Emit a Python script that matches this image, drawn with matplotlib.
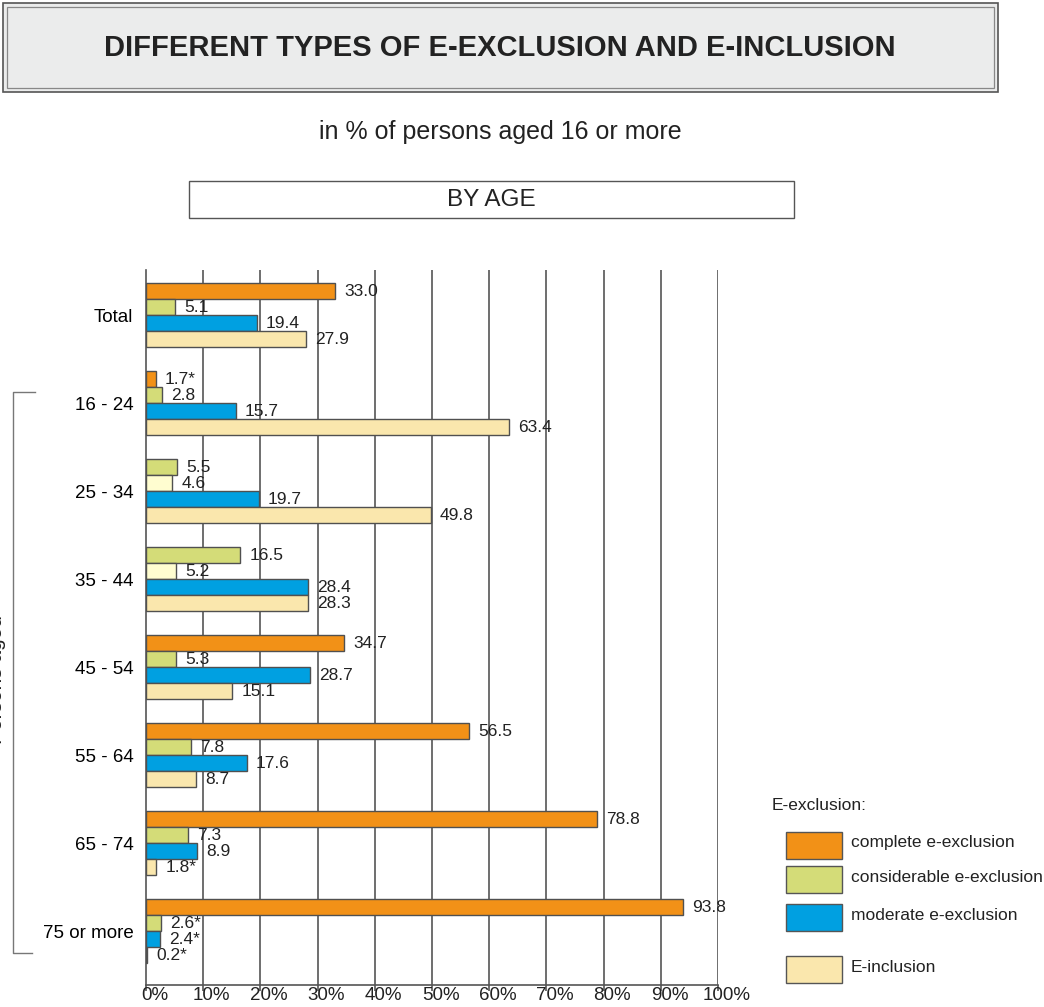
import matplotlib
matplotlib.use("Agg")
import matplotlib.pyplot as plt
from matplotlib.patches import Rectangle

plt.rcParams["font.family"] = ["Liberation Sans", "DejaVu Sans"]

# data
groups = ["Total", "16 - 24", "25 - 34", "35 - 44", "45 - 54", "55 - 64", "65 - 74", "75 or more"]
complete = [33.0, 1.7, None, None, 34.7, 56.5, 78.8, 93.8]
considerable = [5.1, 2.8, 5.5, 16.5, 5.3, 7.8, 7.3, 2.6]
moderate = [19.4, 15.7, 19.7, 28.4, 28.7, 17.6, 8.9, 2.4]
inclusion = [27.9, 63.4, 49.8, 28.3, 15.1, 8.7, 1.8, 0.2]
unmarked = [None, None, 4.6, 5.2, None, None, None, None]
flagged = {("complete", 1), ("considerable", 7), ("moderate", 7), ("inclusion", 7), ("inclusion", 6)}
# in 25-34 and 35-44 the green bar sits in the first row and a pale bar in the second
considerable_row = [1, 1, 0, 0, 1, 1, 1, 1]

colors = {"complete": "#F29117", "considerable": "#D4DC78", "moderate": "#00A0E1",
          "inclusion": "#FAE7AD", "unmarked": "#FFFDD0"}
legend_labels = [("complete", "complete e-exclusion"), ("considerable", "considerable e-exclusion"),
                 ("moderate", "moderate e-exclusion"), ("inclusion", "E-inclusion")]

W, H = 1044, 1007
fig = plt.figure(figsize=(W / 100, H / 100), dpi=100)

# background layer in pixel coordinates
bg = fig.add_axes([0, 0, 1, 1], zorder=0)
bg.set_xlim(0, W)
bg.set_ylim(H, 0)
bg.axis("off")
bg.add_patch(Rectangle((3, 3), 995, 89, facecolor="#EBECEC", edgecolor="#555555", lw=1.2))
bg.add_patch(Rectangle((7, 7), 987, 81, facecolor="none", edgecolor="#888888", lw=0.9))
bg.text(500, 48, "DIFFERENT TYPES OF E-EXCLUSION AND E-INCLUSION", ha="center", va="center",
        fontsize=21, fontweight="bold", color="#222222")
bg.text(500, 132, "in % of persons aged 16 or more", ha="center", va="center", fontsize=18, color="#222222")
bg.add_patch(Rectangle((189, 181), 605, 37, facecolor="white", edgecolor="#555555", lw=1.0))
bg.text(491, 200, "BY AGE", ha="center", va="center", fontsize=17.5, color="#222222")

# bracket and rotated label on the left (cut by the left edge, as in the original)
bg.plot([35, 13, 13, 32], [392, 392, 953, 953], color="#777777", lw=1.0)
bg.text(6, 680, "Persons aged", rotation=90, ha="right", va="center", fontsize=15, color="#222222")

# legend
bg.text(772, 806, "E-exclusion:", ha="left", va="center", fontsize=12.5, color="#222222")
for (key, lab), y in zip(legend_labels, [832, 866, 904, 956]):
    bg.add_patch(Rectangle((786, y), 56, 27, facecolor=colors[key], edgecolor="#555555", lw=1.0))
    bg.text(851, y + 11, lab, ha="left", va="center", fontsize=12.5, color="#222222")

# bar chart, y in row units (one row = 16 px, one group = 88 px)
GROUP = 5.5
ax = fig.add_axes([146 / W, 1 - 985 / H, (718 - 146) / W, (985 - 270) / H], zorder=1)
ax.patch.set_alpha(0)
ax.set_xlim(0, 100)
ax.set_ylim(7 * GROUP + 3 + 30 / 16, -21 / 16)


def put(val, row, key, g):
    if val is None:
        return
    y = g * GROUP + row
    ax.barh(y, val, height=1.0, color=colors[key], edgecolor="#505050", lw=1.0, zorder=3)
    lab = f"{val:.1f}" + ("*" if (key, g) in flagged else "")
    ax.text(val + 1.6, y, lab, ha="left", va="center", fontsize=12.5, color="#222222", zorder=4)


for g in range(len(groups)):
    put(complete[g], 0, "complete", g)
    put(considerable[g], considerable_row[g], "considerable", g)
    put(unmarked[g], 1, "unmarked", g)
    put(moderate[g], 2, "moderate", g)
    put(inclusion[g], 3, "inclusion", g)

for x in range(10, 101, 10):
    ax.axvline(x, color="#555555", lw=1.2, zorder=1)

ax.set_yticks([g * GROUP + 1.5 for g in range(len(groups))])
ax.set_yticklabels(groups, fontsize=13.5)
ax.tick_params(axis="y", length=0, pad=9)
ax.set_xticks(range(0, 101, 10))
ax.set_xticklabels([])
ax.tick_params(axis="x", direction="out", length=4, color="#555555", width=1.2)
for x in range(0, 101, 10):
    ax.text(x + 1.5, -0.003, f"{x}%", transform=ax.get_xaxis_transform(), ha="center", va="top",
            fontsize=13.5, color="#222222")
for s in ["top", "right"]:
    ax.spines[s].set_visible(False)
for s in ["left", "bottom"]:
    ax.spines[s].set_color("#555555")
    ax.spines[s].set_linewidth(1.2)

fig.savefig("out.png", dpi=100)
